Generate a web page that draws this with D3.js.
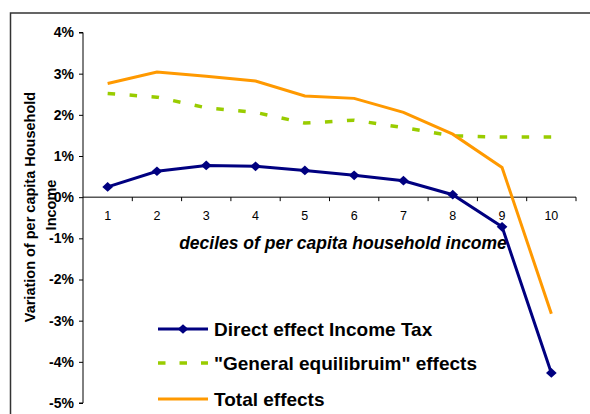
<!DOCTYPE html>
<html>
<head>
<meta charset="utf-8">
<script src="https://cdn.jsdelivr.net/npm/d3@7/dist/d3.min.js"></script>
<style>
  html, body { margin: 0; padding: 0; background: #fff; }
  svg { display: block; font-family: Arial, "Liberation Sans", sans-serif; }
</style>
</head>
<body>
<svg id="chart" width="590" height="414"></svg>
<script>
// Deciles of per capita household income
const deciles = ["1", "2", "3", "4", "5", "6", "7", "8", "9", "10"];

// Variation of per capita household income (%)
const directEffect = [0.25, 0.63, 0.77, 0.75, 0.65, 0.53, 0.40, 0.06, -0.72, -4.27];
const generalEquilibrium = [2.52, 2.43, 2.17, 2.06, 1.80, 1.87, 1.69, 1.49, 1.46, 1.46];
const totalEffects = [2.76, 3.04, 2.94, 2.82, 2.46, 2.40, 2.06, 1.53, 0.72, -2.83];

const yTicks = [4, 3, 2, 1, 0, -1, -2, -3, -4, -5];

const seriesNames = ["Direct effect Income Tax", "\"General equilibruim\" effects", "Total effects"];

const svg = d3.select("#chart");

// Outer frame (open at right and bottom)
svg.append("path")
  .attr("d", "M10.5,420 L10.5,13 L600,13")
  .attr("fill", "none")
  .attr("stroke", "#333")
  .attr("stroke-width", 1.5);

const plotLeft = 83, plotRight = 576, plotTop = 32.5, plotBottom = 403;

const x = d3.scaleBand().domain(deciles).range([plotLeft, plotRight]);
const y = d3.scaleLinear().domain([-5, 4]).range([plotBottom, plotTop]);
const xc = d => x(d) + x.bandwidth() / 2;

// Y axis
const yAxis = svg.append("g")
  .attr("transform", `translate(${plotLeft},0)`)
  .call(d3.axisLeft(y).tickValues(yTicks).tickSize(4).tickFormat(d => d + "%"));
yAxis.select(".domain").attr("stroke", "#000").attr("d", `M-4,${y(4)}H0V${y(-5)}H-4`);
yAxis.selectAll("line").attr("stroke", "#000");
yAxis.selectAll("text")
  .attr("x", -9)
  .attr("font-size", 14)
  .attr("font-weight", "bold")
  .attr("fill", "#000")
  .attr("font-family", "Arial, 'Liberation Sans', sans-serif");

// X axis at zero line, ticks between categories
const xAxisG = svg.append("g").attr("transform", `translate(0,${y(0)})`);
xAxisG.append("line")
  .attr("x1", plotLeft).attr("x2", plotRight)
  .attr("stroke", "#000");
const boundaries = deciles.map(d => x(d)).concat([plotRight]).slice(1);
xAxisG.selectAll("line.tick")
  .data(boundaries)
  .join("line")
  .attr("class", "tick")
  .attr("x1", d => d).attr("x2", d => d)
  .attr("y1", 0).attr("y2", 4)
  .attr("stroke", "#000");
xAxisG.selectAll("text")
  .data(deciles)
  .join("text")
  .attr("x", d => xc(d))
  .attr("y", 23)
  .attr("text-anchor", "middle")
  .attr("font-size", 12.5)
  .attr("fill", "#000")
  .text(d => d);

// Axis titles
svg.append("text")
  .attr("x", 343)
  .attr("y", 249)
  .attr("text-anchor", "middle")
  .attr("font-size", 17.5)
  .attr("font-weight", "bold")
  .attr("font-style", "italic")
  .text("deciles of per capita household income");

const yTitle = svg.append("text")
  .attr("transform", "translate(0,207) rotate(-90)")
  .attr("text-anchor", "middle")
  .attr("font-size", 14.5)
  .attr("font-weight", "bold");
yTitle.append("tspan").attr("x", 0).attr("y", 35).text("Variation of per capita Household");
yTitle.append("tspan").attr("x", 2).attr("y", 56).text("Income");

// Series lines
const line = d3.line().x((d, i) => xc(deciles[i])).y(d => y(d));

svg.append("path")
  .datum(generalEquilibrium)
  .attr("d", line)
  .attr("fill", "none")
  .attr("stroke", "#99CC00")
  .attr("stroke-width", 3.5)
  .attr("stroke-dasharray", "7.5,14.5");

svg.append("path")
  .datum(totalEffects)
  .attr("d", line)
  .attr("fill", "none")
  .attr("stroke", "#FF9900")
  .attr("stroke-width", 3);

svg.append("path")
  .datum(directEffect)
  .attr("d", line)
  .attr("fill", "none")
  .attr("stroke", "#000080")
  .attr("stroke-width", 3);

const diamond = d3.symbol().type(d3.symbolDiamond2).size(60);
svg.selectAll("path.marker")
  .data(directEffect)
  .join("path")
  .attr("class", "marker")
  .attr("transform", (d, i) => `translate(${xc(deciles[i])},${y(d)}) scale(1.1,1)`)
  .attr("d", diamond)
  .attr("fill", "#000080");

// Legend
const legendRows = [329, 363, 399];
const legend = svg.append("g");
const lx1 = 158, lx2 = 208;
legend.append("line").attr("x1", lx1).attr("x2", lx2).attr("y1", legendRows[0]).attr("y2", legendRows[0])
  .attr("stroke", "#000080").attr("stroke-width", 3);
legend.append("path").attr("d", diamond)
  .attr("transform", `translate(${(lx1 + lx2) / 2},${legendRows[0]}) scale(1.1,1)`)
  .attr("fill", "#000080");
legend.append("line").attr("x1", lx1).attr("x2", lx2).attr("y1", legendRows[1]).attr("y2", legendRows[1])
  .attr("stroke", "#99CC00").attr("stroke-width", 3.5).attr("stroke-dasharray", "7.5,14");
legend.append("line").attr("x1", lx1).attr("x2", lx2).attr("y1", legendRows[2]).attr("y2", legendRows[2])
  .attr("stroke", "#FF9900").attr("stroke-width", 3);

legend.selectAll("text")
  .data(seriesNames)
  .join("text")
  .attr("x", 214)
  .attr("y", (d, i) => legendRows[i] + 6.5)
  .attr("font-size", 19)
  .attr("font-weight", "bold")
  .text(d => d);
</script>
</body>
</html>
